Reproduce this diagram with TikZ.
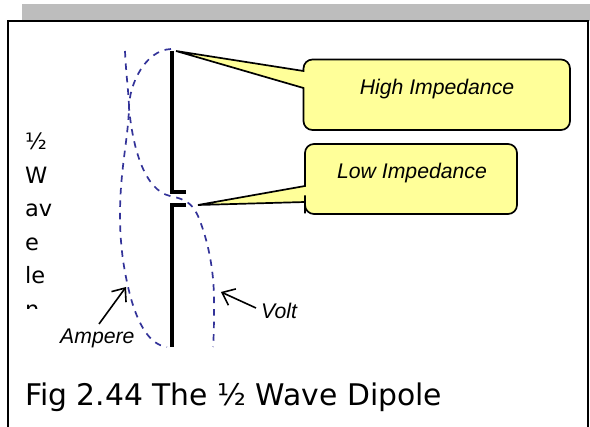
\documentclass[tikz,border=0pt]{standalone}
\usepackage{fontspec}
\setmainfont{DejaVu Sans}
\newfontfamily\calloutfont{Liberation Sans}
\usetikzlibrary{arrows.meta}
\definecolor{bandgrey}{HTML}{BDBDBD}
\definecolor{calloutyellow}{HTML}{FFFF99}
\definecolor{wavecolor}{HTML}{333399}
\tikzset{
  frameline/.style={draw=black,line width=2pt},
  callout/.style={draw=black,fill=calloutyellow,line width=1.7pt,line join=miter},
  calloutlabel/.style={font=\calloutfont\itshape\fontsize{21.2}{24}\selectfont,text=black,inner sep=0pt},
  wave/.style={draw=wavecolor,line width=1.7pt,dash pattern=on 6.5pt off 6pt},
  dipole/.style={draw=black,line width=4pt,line cap=butt,line join=miter},
  pointer/.style={draw=black,line width=1.6pt,-{Straight Barb[length=11pt,width=18pt,line width=1.6pt]}},
  sidelabel/.style={anchor=base west,inner sep=0pt,font=\fontsize{22.5}{26}\selectfont},
}
\begin{document}
\begin{tikzpicture}[x=1pt,y=-1pt]
\useasboundingbox (0,0) rectangle (590,427);
\fill[white] (0,0) rectangle (590,427);
\fill[bandgrey] (22,4) rectangle (590,21);
\draw[frameline] (8,450) -- (8,21) -- (588,21) -- (588,450);
% callouts
\draw[callout] (176,51) -- (303.5,71) [rounded corners=9pt] -- (303.5,59.5) -- (570,59.5) -- (570,130) -- (303.5,130) -- (303.5,100) [sharp corners] -- (303.5,88) -- cycle;
\draw[callout] (198,205) -- (305,186) [rounded corners=9pt] -- (305,144) -- (517,144) -- (517,214) -- (305,214) -- (305,204.5) [sharp corners] -- (305,202) -- cycle;
\node[calloutlabel,anchor=base] (high) at (437,94.5) {High Impedance};
\node[calloutlabel,anchor=base] (low) at (412,178.5) {Low Impedance};
% dipole
\draw[dipole] (186,192.5) -- (172,192.5) -- (172,51);
\draw[dipole] (186,205.5) -- (172,205.5) -- (172,347);
% waves
\draw[wave] (125,51) .. controls (126,75) and (129,95) .. (129,108) .. controls (128,140) and (120,170) .. (120,215) .. controls (120,250) and (125,275) .. (130,295) .. controls (138,325) and (150,345) .. (167,347);
\draw[wave] (171,49) .. controls (145,50) and (129,85) .. (129,108) .. controls (133,150) and (145,190) .. (170,196) .. controls (185,199) and (192,203) .. (198,216) .. controls (208,240) and (214,270) .. (214,300) .. controls (214,320) and (214,335) .. (213,347);
% pointers
\coordinate (amptail) at (99,324);
\coordinate (amphead) at (126,287);
\coordinate (volttail) at (256,308);
\coordinate (volthead) at (221,292);
\draw[pointer] (amptail) -- (amphead);
\draw[pointer] (volttail) -- (volthead);
\node[calloutlabel,anchor=base west] (ampere) at (60,344) {Ampere};
\node[calloutlabel,anchor=base west] (volt) at (261,318.5) {Volt};
% clipped side text
\begin{scope}
\clip (20,120) rectangle (100,309);
\node[sidelabel] (l1) at (25,150) {½};
\node[sidelabel] (l2) at (25,184) {W};
\node[sidelabel] (l3) at (25,217) {av};
\node[sidelabel] (l4) at (25,251) {e};
\node[sidelabel] (l5) at (25,284) {le};
\node[sidelabel] (l6) at (25,318) {n};
\end{scope}
\node[anchor=base west,inner sep=0pt,font=\fontsize{29.8}{34}\selectfont] (caption) at (25,406) {Fig 2.44 The ½ Wave Dipole};
\end{tikzpicture}
\end{document}
